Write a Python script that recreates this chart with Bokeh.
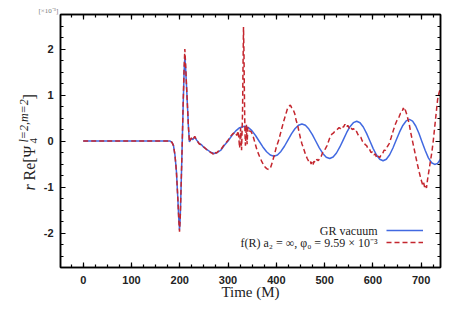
import math
from bokeh.plotting import figure
from bokeh.layouts import row
from bokeh.models import (LinearAxis, SingleIntervalTicker, Range1d, Label, Legend,
                          LegendItem, CustomJSTickFormatter)
from bokeh.core.properties import value
from bokeh.embed import file_html
from bokeh.resources import INLINE

# ---------------- data (units of 1e-3) ----------------
t_gr = [0, 100, 170, 180, 184, 187, 190, 193, 196, 198, 199.5, 201, 203, 205, 207, 209, 210.5, 212,
        214, 216, 218, 220, 224, 227, 231, 235, 240, 245, 250, 258, 265, 272, 278, 285, 292, 300,
        308, 316, 324, 334,
        341.6, 349.3, 356.9, 364.5, 372.1, 379.8, 387.4, 395,
        402.3, 409.5, 416.8, 424, 431.3, 438.5, 445.8, 453,
        460.2, 467.4, 474.6, 481.8, 489, 496.2, 503.4, 510.6,
        517.6, 524.6, 531.6, 538.6, 545.5, 552.5, 559.5, 566.5,
        573.3, 580.1, 586.9, 593.8, 600.6, 607.4, 614.2, 621,
        627.8, 634.7, 641.5, 648.3, 655.1, 662, 668.8, 675.6,
        682.2, 688.7, 695.3, 701.8, 708.4, 714.9, 721.5, 728, 734, 740]
v_gr = [0, 0, 0, 0, -0.03, -0.1, -0.3, -0.65, -1.25, -1.7, -1.93, -1.65, -0.9, -0.1, 0.75, 1.5, 1.82, 1.6,
        1.2, 0.75, 0.3, -0.02, 0.06, 0.03, 0.09, 0.02, -0.05, -0.08, -0.14, -0.2, -0.25, -0.27, -0.25, -0.2, -0.1, 0.0,
        0.12, 0.22, 0.29, 0.32,
        0.295, 0.225, 0.119, -0.005, -0.129, -0.235, -0.305, -0.33,
        -0.303, -0.227, -0.114, 0.02, 0.154, 0.267, 0.343, 0.37,
        0.342, 0.26, 0.139, -0.005, -0.149, -0.27, -0.352, -0.38,
        -0.349, -0.261, -0.13, 0.025, 0.18, 0.311, 0.399, 0.43,
        0.397, 0.304, 0.165, 0.0, -0.165, -0.304, -0.397, -0.43,
        -0.396, -0.298, -0.152, 0.02, 0.192, 0.338, 0.436, 0.47,
        0.433, 0.326, 0.168, -0.02, -0.208, -0.366, -0.473, -0.51, -0.487, -0.395]

t_fr = [0, 100, 170, 180, 184, 187, 190, 193, 196, 198, 199.5, 201, 203, 205, 207, 209, 210.5, 212,
        214, 216, 218, 220, 224, 227, 231, 235, 240, 245, 250, 255, 260, 264, 268, 270, 272, 276, 280,
        285, 290, 295, 300, 305, 310, 315, 318, 321, 324, 326, 328, 330, 331, 332, 333, 334, 335, 336,
        338, 339.5, 341, 344, 348, 352, 356, 360, 365, 370, 375, 380, 384, 388, 392, 396, 400, 405,
        410, 415, 419, 423, 426, 429, 432, 435, 438, 441, 444, 447, 450, 453, 456, 460, 464, 467, 470,
        472, 474, 476, 478, 481, 484, 487, 490, 493, 496, 500, 505, 510, 515, 518, 522, 526, 530, 533,
        536, 539, 542, 545, 548, 551, 554, 557, 560, 563, 566, 569, 572, 575, 578, 581, 584, 587, 590,
        593, 596, 599, 602, 605, 608, 611, 614, 617, 620, 623, 626, 630, 634, 638, 642, 646, 650, 654,
        657, 660, 663, 665, 667, 670, 672, 675, 678, 681, 684, 688, 692, 696, 700, 703, 705, 707, 709,
        711, 713, 716, 719, 722, 725, 728, 731, 734, 737, 740]
v_fr = [0, 0, 0, 0, -0.03, -0.1, -0.3, -0.65, -1.25, -1.72, -1.97, -1.67, -0.9, -0.1, 0.8, 1.6, 2.0, 1.7,
        1.2, 0.75, 0.3, -0.02, 0.07, 0.02, 0.1, 0.02, -0.06, -0.09, -0.13, -0.18, -0.22, -0.25, -0.27, -0.3, -0.25, -0.26, -0.22,
        -0.19, -0.11, -0.05, 0.02, 0.1, 0.16, 0.19, 0.12, 0.22, -0.15, 0.28, -0.2, 0.6, 1.6, 2.48, 1.9, 0.9, 0.2, -0.1,
        0.35, -0.07, 0.3, 0.22, 0.2, 0.1, -0.05, -0.2, -0.33, -0.45, -0.55, -0.6, -0.62, -0.58, -0.45, -0.3, -0.13, 0.02,
        0.22, 0.42, 0.56, 0.7, 0.75, 0.78, 0.72, 0.68, 0.6, 0.45, 0.35, 0.2, 0.06, -0.06, -0.15, -0.28, -0.38, -0.44, -0.42,
        -0.5, -0.46, -0.52, -0.44, -0.47, -0.4, -0.43, -0.36, -0.33, -0.25, -0.2, -0.1, 0.05, 0.15, 0.17, 0.22, 0.25, 0.29, 0.27,
        0.32, 0.3, 0.36, 0.3, 0.34, 0.28, 0.31, 0.25, 0.27, 0.2, 0.21, 0.14, 0.1, 0.08, 0.0, -0.02, -0.08, -0.1, -0.17,
        -0.18, -0.25, -0.24, -0.3, -0.28, -0.37, -0.33, -0.36, -0.3, -0.28, -0.2, -0.2, -0.12, -0.05, 0.08, 0.22, 0.35, 0.45, 0.52,
        0.6, 0.62, 0.72, 0.65, 0.68, 0.58, 0.5, 0.38, 0.2, 0.05, -0.1, -0.3, -0.5, -0.68, -0.85, -0.95, -0.9, -1.0, -0.95,
        -1.02, -0.85, -0.65, -0.45, -0.25, 0.0, 0.3, 0.6, 0.9, 1.05, 1.15]

label_gr = "GR vacuum"
label_fr = "f(R) a\u2082 = \u221e, \u03c6\u2080 = 9.59 \u00d7 10\u207b\u00b3"
scale_note = "[\u00d710\u207b\u00b3]"

SERIF = "Liberation Serif"
SANS = "Liberation Sans"
BLUE = "#4169e1"
RED = "#c4262e"
H = 322
LW = 38

# ---------------- label strip (y-axis title) ----------------
lab = figure(width=LW, height=H, output_backend="svg", toolbar_location=None,
             x_axis_location=None, y_axis_location=None, min_border=0,
             x_range=Range1d(0, 1), y_range=Range1d(0, 1))
lab.grid.visible = False
lab.outline_line_color = None
lab.background_fill_color = "white"
lab.border_fill_color = "white"

ang = math.pi / 2
pieces = [("r", 29, 77, "16px", "italic"),
          ("Re[\u03a8", 29, 87, "16px", "normal"),
          ("4", 33, 124, "11px", "normal"),
          ("l=2,m=2", 23, 125, "12px", "italic"),
          ("]", 29, 168, "16px", "normal")]
for txt, xx, yy, fs, st in pieces:
    lab.add_layout(Label(x=xx, y=yy, x_units="screen", y_units="screen", text=txt, angle=ang,
                         text_font=SERIF, text_font_size=fs, text_font_style=st,
                         text_align="left", text_baseline="alphabetic", text_color="#222222"))

# ---------------- main plot ----------------
p = figure(width=456 - LW, height=H, output_backend="svg", toolbar_location=None,
           x_range=Range1d(-47, 740), y_range=Range1d(-2.75, 2.75),
           min_border_left=60 - LW, min_border_right=16, min_border_top=14, min_border_bottom=55)
p.grid.visible = False
p.outline_line_color = "black"
p.outline_line_width = 1.5
p.background_fill_color = "white"
p.border_fill_color = "white"

p.title.text = scale_note
p.title.align = "left"
p.title.offset = -22
p.title.standoff = 0
p.title.text_font = SERIF
p.title.text_font_size = "7px"
p.title.text_font_style = "normal"
p.title.text_color = "#777777"

xt = SingleIntervalTicker(interval=100, num_minor_ticks=4)
yt = SingleIntervalTicker(interval=1, num_minor_ticks=4)
fmt = CustomJSTickFormatter(code="return tick.toFixed(0)")

def style(ax, labels=True):
    ax.axis_line_color = "black"
    ax.axis_line_width = 1.5
    ax.major_tick_in = 5
    ax.major_tick_out = 0
    ax.minor_tick_in = 3
    ax.minor_tick_out = 0
    ax.major_tick_line_width = 1.2
    ax.minor_tick_line_width = 1.2
    if labels:
        ax.major_label_text_font = SANS
        ax.major_label_text_font_style = "bold"
        ax.major_label_text_font_size = "11px"
        ax.major_label_text_color = "#222222"
        ax.major_label_standoff = 8
        ax.formatter = fmt
    else:
        ax.major_label_text_font_size = "0px"
        ax.major_label_standoff = 0

p.xaxis.ticker = xt
p.yaxis.ticker = yt
style(p.xaxis[0])
style(p.yaxis[0])
p.yaxis[0].major_label_standoff = 7
p.xaxis.axis_label = "Time (M)"
p.xaxis.axis_label_text_font = SERIF
p.xaxis.axis_label_text_font_size = "15px"
p.xaxis.axis_label_text_font_style = "normal"
p.xaxis.axis_label_text_color = "#222222"
p.xaxis.axis_label_standoff = -3

top = LinearAxis(ticker=xt)
style(top, labels=False)
p.add_layout(top, "above")
right = LinearAxis(ticker=yt)
style(right, labels=False)
p.add_layout(right, "right")

r_gr = p.line(t_gr, v_gr, line_color=BLUE, line_width=1.5)
r_fr = p.line(t_fr, v_fr, line_color=RED, line_width=1.5, line_dash="5 3")

legend = Legend(items=[LegendItem(label=value(" "), renderers=[r_gr]),
                       LegendItem(label=value(" "), renderers=[r_fr])],
                location=(326, 19), orientation="vertical", glyph_width=37, glyph_height=12,
                label_width=0, label_height=12, label_standoff=0, spacing=0, padding=0, margin=0,
                border_line_color=None, background_fill_alpha=0, label_text_font_size="8px")
p.add_layout(legend)

for txt, yy in [(label_gr, 37), (label_fr, 25)]:
    p.add_layout(Label(x=317, y=yy, x_units="screen", y_units="screen", text=txt,
                       text_font=SERIF, text_font_size="12px", text_align="right",
                       text_baseline="middle", text_color="#222222"))

layout = row(lab, p, spacing=0)
open("out.html", "w").write(file_html(layout, INLINE))
